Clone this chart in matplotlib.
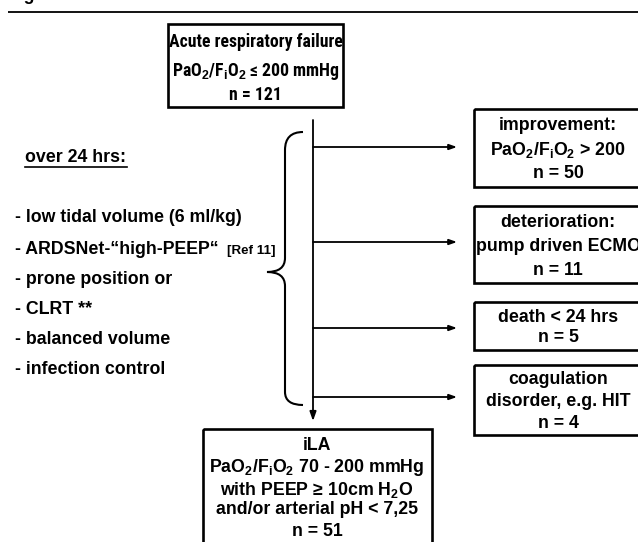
import matplotlib
matplotlib.use("Agg")
import matplotlib.pyplot as plt
from matplotlib import font_manager
from matplotlib.patches import Rectangle, FancyArrowPatch, PathPatch
from matplotlib.path import Path

# ---------------- data ----------------
start_lines = ["Acute respiratory failure",
               r"PaO$_{2}$/F$_{i}$O$_{2}$" + " \u2264 200 mmHg",
               "n = 121"]
start_n = 121

protocol_title = "over 24 hrs:"
protocol_items = ["- low tidal volume (6 ml/kg)",
                  "- ARDSNet-\u201chigh-PEEP\u201c",
                  "- prone position or",
                  "- CLRT **",
                  "- balanced volume",
                  "- infection control"]
protocol_ref = "[Ref 11]"

outcome_labels = [["improvement:", r"PaO$_{2}$/F$_{i}$O$_{2}$ > 200"],
                  ["deterioration:", "pump driven ECMO"],
                  ["death < 24 hrs"],
                  ["coagulation", "disorder, e.g. HIT"]]
outcome_n = [50, 11, 5, 4]

ila_lines = ["iLA",
             r"PaO$_{2}$/F$_{i}$O$_{2}$ 70 - 200 mmHg",
             "with PEEP \u2265 10cm H$_{2}$O",
             "and/or arterial pH < 7,25"]
ila_n = 51

# ---------------- style ----------------
plt.rcParams['mathtext.fontset'] = 'custom'
for k in ['rm', 'it', 'bf', 'sf']:
    plt.rcParams['mathtext.' + k] = 'Liberation Sans:bold'

narrow_family = None
for fam in ['Liberation Sans Narrow', 'Roboto Condensed', 'Arial Narrow', 'Open Sans Condensed']:
    try:
        font_manager.findfont(font_manager.FontProperties(family=fam, weight='bold'),
                              fallback_to_default=False)
        narrow_family = fam
        break
    except Exception:
        pass

FS = 12.8
BLACK = 'black'
ARROW = '-|>,head_length=4.5,head_width=1.6'

fig = plt.figure(figsize=(6.38, 5.42), dpi=100)
ax = fig.add_axes([0, 0, 1, 1])
ax.set_xlim(0, 638)
ax.set_ylim(542, 0)
ax.axis('off')

def txt(x, y, s, size=FS, ha='center', family='Liberation Sans', **kw):
    ax.text(x, y, s, ha=ha, va='center', fontsize=size, fontweight='bold',
            family=family, color=BLACK, **kw)

# partial header (cut at the top edge, as in the reference)
ax.text(8, 0.5, "Figure 1", ha='left', va='baseline', fontsize=FS, fontweight='bold',
        family='Liberation Sans', color=BLACK, clip_on=False)
ax.plot([8, 638], [12, 12], color=BLACK, lw=1.3, solid_capstyle='butt')

# top box
ax.add_patch(Rectangle((168, 24), 175, 83, fill=False, ec=BLACK, lw=1.9))
top_y = [42, 71, 95]
if narrow_family:
    for y, s in zip(top_y, start_lines):
        txt(255.5, y, s, size=FS, family=narrow_family)
else:
    for y, s in zip(top_y, start_lines):
        txt(255.5, y, s, size=10.9)

# main vertical arrow
ax.add_patch(FancyArrowPatch((313, 120), (313, 421), arrowstyle=ARROW,
                             color=BLACK, lw=1.3, shrinkA=0, shrinkB=0, mutation_scale=1.2))

# side arrows and outcome boxes
arrow_y = [147, 242, 328, 397]
box_tops = [109, 206, 302, 365]
box_bots = [187, 283, 350, 435]
line_steps = [24, 24, 20, 22]
for ay, bt, bb, labels, n, step in zip(arrow_y, box_tops, box_bots, outcome_labels,
                                       outcome_n, line_steps):
    ax.add_patch(FancyArrowPatch((313, ay), (457, ay), arrowstyle=ARROW,
                                 color=BLACK, lw=1.3, shrinkA=0, shrinkB=0, mutation_scale=1.0))
    ax.add_patch(Rectangle((474, bt), 180, bb - bt, fill=False, ec=BLACK, lw=1.9, clip_on=True))
    lines = labels + [f"n = {n}"]
    nl = len(lines)
    cy = (bt + bb) / 2
    for i, s in enumerate(lines):
        txt(558, cy + (i - (nl - 1) / 2) * step + 2, s)

# brace
verts = [(303, 132), (285, 132), (285, 150),
         (285, 258),
         (285, 272), (267, 272),
         (285, 272), (285, 286),
         (285, 392),
         (285, 405), (303, 405)]
codes = [Path.MOVETO, Path.CURVE3, Path.CURVE3,
         Path.LINETO,
         Path.CURVE3, Path.CURVE3,
         Path.CURVE3, Path.CURVE3,
         Path.LINETO,
         Path.CURVE3, Path.CURVE3]
ax.add_patch(PathPatch(Path(verts, codes), fill=False, ec=BLACK, lw=1.5, capstyle='butt'))

# protocol text
ax.text(25, 158, protocol_title, ha='left', va='center', fontsize=FS, fontweight='bold',
        family='Liberation Sans', color=BLACK)
ax.plot([25, 127], [167, 167], color=BLACK, lw=1.2)
item_y = [218, 250, 280, 310, 340, 370]
for y, s in zip(item_y, protocol_items):
    ax.text(15, y, s, ha='left', va='center', fontsize=FS, fontweight='bold',
            family='Liberation Sans', color=BLACK)
ax.text(227, 251, protocol_ref, ha='left', va='center', fontsize=9.6, fontweight='bold',
        family='Liberation Sans', color=BLACK)

# iLA box
ax.add_patch(Rectangle((203, 429), 229, 130, fill=False, ec=BLACK, lw=1.9))
ila_y = [445, 468, 490, 510, 532]
for y, s in zip(ila_y, ila_lines + [f"n = {ila_n}"]):
    txt(317, y, s)

fig.savefig("out.png", dpi=100)
